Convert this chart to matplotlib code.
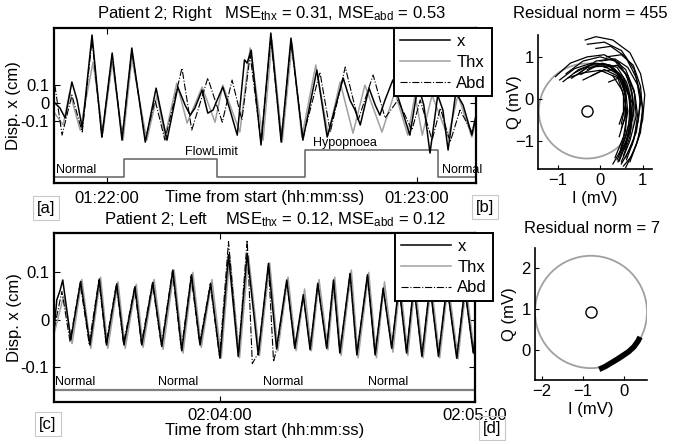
import matplotlib
matplotlib.use("Agg")
import matplotlib.pyplot as plt
from matplotlib.patches import Circle

plt.rcParams['font.family'] = ['Liberation Sans', 'DejaVu Sans']
plt.rcParams['font.size'] = 12
plt.rcParams['mathtext.fontset'] = 'custom'
plt.rcParams['mathtext.rm'] = 'Liberation Sans'
plt.rcParams['mathtext.it'] = 'Liberation Sans:italic'

# ---- panel a: seconds relative to 01:22:00, displacement in cm ----
a_x_t = [-10.26, -9.1, -8.1, -6.8, -5.8, -4.8, -2.9, -1.0, 1.0, 2.9,
         4.8, 7.4, 9.5, 11.6, 13.7, 15.1, 16.1, 17.0, 18.4, 19.5,
         20.5, 22.4, 23.8, 25.2, 26.6, 27.1, 27.9, 29.8, 31.7, 33.7,
         35.6, 37.9, 40.6, 42.6, 45.7, 47.0, 48.0, 49.0, 50.7, 51.9,
         52.8, 53.8, 55.3, 57.1, 58.6, 60.2, 61.3, 62.5, 64.0, 65.0,
         66.0, 67.5, 68.9, 70.6, 71.4]
a_x = [0.006, -0.028, -0.083, 0.117, 0.017, -0.139, 0.378, -0.189, 0.278, -0.206,
       0.306, -0.217, 0.083, -0.206, 0.089, -0.011, -0.067, -0.028, 0.072, -0.056,
       -0.039, 0.089, -0.039, -0.178, 0.24, 0.222, 0.294, -0.233, 0.389, -0.217,
       0.361, -0.206, 0.183, -0.189, 0.139, 0.017, -0.039, -0.122, 0.083, -0.011,
       -0.067, 0.017, 0.128, -0.039, -0.178, 0.1, -0.011, -0.278, 0.044, -0.039,
       -0.261, 0.061, -0.011, -0.178, -0.067]
a_thx_t = [-10.26, -8.5, -7.2, -5.2, -2.7, -0.8, 1.0, 3.1, 4.8, 7.7,
           9.7, 11.2, 13.5, 15.5, 18.4, 20.9, 22.4, 25.7, 27.7, 30.2,
           31.9, 33.9, 35.8, 37.7, 40.4, 42.8, 45.1, 47.6, 49.9, 53.2,
           55.7, 58.2, 59.6, 61.0, 62.9, 66.0, 67.9, 70.6, 71.4]
a_thx = [-0.05, -0.122, 0.061, -0.15, 0.228, -0.167, 0.228, -0.206, 0.25, -0.206,
         0.044, -0.189, 0.111, -0.111, 0.089, -0.106, 0.1, -0.161, 0.306, -0.206,
         0.35, -0.217, 0.333, -0.189, 0.211, -0.178, 0.117, -0.167, 0.1, -0.161,
         0.061, -0.178, 0.044, -0.178, 0.044, -0.189, 0.044, -0.189, -0.094]
a_abd_t = [-10.1, -8.7, -6.8, -4.8, -2.9, -1.0, 1.0, 2.9, 4.8, 7.4,
           9.3, 11.2, 14.5, 16.4, 19.5, 22.3, 24.2, 26.1, 27.7, 29.8,
           31.7, 33.7, 35.6, 37.9, 41.2, 43.2, 46.1, 48.6, 51.5, 53.8,
           56.3, 59.0, 60.6, 62.9, 64.5, 66.4, 68.3, 70.6, 71.4]
a_abd = [0.1, -0.178, 0.044, -0.161, 0.35, -0.189, 0.267, -0.194, 0.289, -0.206,
         0.017, -0.206, 0.194, -0.15, 0.139, -0.106, 0.128, -0.094, 0.267, -0.217,
         0.361, -0.206, 0.339, -0.194, 0.172, -0.161, 0.2, -0.094, 0.156, -0.083,
         0.017, -0.15, 0.017, -0.206, -0.028, -0.217, -0.039, -0.161, -0.083]
a_stage_t = [-10.26, 3.3, 21.3, 38.3, 64.1, 71.4]
a_stage_lvl = [-0.411, -0.311, -0.411, -0.261, -0.411, -0.411]
a_stage_names = ['Normal', 'FlowLimit', 'Hypopnoea', 'Normal']
a_name_t = [-9.9, 15.1, 39.9, 64.8]
a_name_lvl = [-0.411, -0.311, -0.261, -0.411]
a_ticks = [0, 60]
a_ticklabels = ['01:22:00', '01:23:00']

# ---- panel c: seconds relative to 02:04:00 ----
c_x_t = [-39.06, -38.4, -37.6, -37.0, -35.1, -32.8, -30.6, -28.4, -26.7, -24.3,
         -22.6, -20.0, -18.4, -15.8, -13.7, -11.1, -9.0, -6.7, -4.7, -2.2,
         0.0, 2.0, 4.3, 6.4, 9.0, 11.4, 13.3, 15.7, 17.6, 19.6,
         21.2, 23.0, 25.1, 26.7, 28.2, 30.6, 32.2, 34.7, 36.5, 38.4,
         40.4, 42.1, 43.9, 45.6, 47.5, 49.4, 51.4, 53.4, 55.7, 57.6,
         59.6, 60.0]
c_x = [-0.021, 0.042, 0.063, 0.084, -0.042, 0.081, -0.053, 0.086, -0.053, 0.076,
       -0.053, 0.070, -0.053, 0.079, -0.056, 0.105, -0.065, 0.095, -0.053, 0.077,
       -0.081, 0.137, -0.077, 0.14, -0.074, 0.119, -0.06, 0.084, -0.06, 0.053,
       -0.063, 0.077, -0.06, 0.084, -0.07, 0.098, -0.074, 0.095, -0.074, 0.067,
       -0.06, 0.074, -0.07, 0.074, -0.077, 0.074, -0.077, 0.074, -0.081, 0.067,
       -0.07, -0.042]
c_thx_t = [-39.06, -36.8, -34.8, -32.5, -30.4, -28.1, -26.4, -24.0, -22.3, -19.7,
           -18.1, -15.5, -13.4, -10.8, -8.7, -6.4, -4.4, -1.9, 0.3, 2.3,
           4.6, 6.7, 9.3, 11.7, 13.6, 16.0, 17.9, 19.9, 21.5, 23.3,
           25.4, 27.0, 28.5, 30.9, 32.5, 35.0, 36.8, 38.7, 40.7, 42.4,
           44.2, 45.9, 47.8, 49.7, 51.7, 53.7, 56.0, 57.9, 59.9, 60.0]
c_thx = [-0.03, 0.05, -0.05, 0.085, -0.06, 0.09, -0.06, 0.08, -0.06, 0.075,
         -0.058, 0.085, -0.062, 0.105, -0.07, 0.1, -0.058, 0.085, -0.08, 0.135,
         -0.08, 0.135, -0.075, 0.12, -0.065, 0.09, -0.065, 0.065, -0.065, 0.085,
         -0.063, 0.09, -0.075, 0.105, -0.08, 0.1, -0.08, 0.08, -0.068, 0.08,
         -0.075, 0.08, -0.08, 0.078, -0.08, 0.078, -0.082, 0.07, -0.072, -0.07]
c_abd_t = [-39.06, -37.2, -35.3, -32.9, -30.8, -28.5, -26.8, -24.4, -22.7, -20.1,
           -18.5, -15.9, -13.8, -11.2, -9.1, -6.8, -4.8, -2.3, -0.1, 2.0,
           4.3, 6.4, 7.6, 9.0, 11.4, 12.6, 13.4, 15.7, 17.6, 19.6,
           21.2, 23.0, 25.1, 26.7, 28.2, 30.6, 32.2, 34.7, 36.5, 38.4,
           40.4, 42.1, 43.9, 45.6, 47.5, 49.4, 51.4, 53.4, 55.7, 57.6,
           59.6, 60.0]
c_abd = [-0.02, 0.06, -0.045, 0.078, -0.05, 0.083, -0.05, 0.074, -0.05, 0.068,
         -0.05, 0.077, -0.054, 0.102, -0.062, 0.092, -0.05, 0.075, -0.078, 0.165,
         -0.075, 0.168, -0.092, -0.07, 0.116, -0.088, -0.058, 0.082, -0.058, 0.05,
         -0.06, 0.075, -0.058, 0.082, -0.068, 0.096, -0.072, 0.093, -0.072, 0.065,
         -0.058, 0.072, -0.068, 0.072, -0.075, 0.072, -0.075, 0.072, -0.078, 0.065,
         -0.068, -0.04]
c_stage_t = [-39.06, 60.0]
c_stage_lvl = [-0.147, -0.147]
c_name_t = [-38.8, -14.6, 10.1, 34.8]
c_ticks = [0, 60]
c_ticklabels = ['02:04:00', '02:05:00']

# ---- panel b: I/Q trajectories (mV) ----
b_arcs_i = [
    [-0.35, -0.1, 0.3, 0.7, 0.95, 1.05, 1.0, 0.85, 0.6],
    [-0.3, 0.1, 0.5, 0.8, 0.95, 0.9, 0.75, 0.5],
    [-1.05, -0.7, -0.3, 0.1, 0.45, 0.7, 0.8, 0.7, 0.4],
    [-0.87, -0.5, -0.1, 0.25, 0.55, 0.7, 0.68, 0.5, 0.3],
    [-0.67, -0.3, 0.1, 0.4, 0.6, 0.65, 0.55, 0.35],
    [-0.5, -0.1, 0.3, 0.6, 0.8, 0.85, 0.7, 0.5],
    [-0.2, 0.1, 0.4, 0.55, 0.55, 0.45],
    [0.0, 0.35, 0.65, 0.9, 1.0, 0.95, 0.75, 0.55],
    [-0.8, -0.4, 0.0, 0.35, 0.6, 0.75, 0.78, 0.62, 0.42],
    [-0.1, 0.25, 0.6, 0.85, 0.95, 0.85, 0.6],
    [-0.4, 0.0, 0.35, 0.55, 0.6, 0.5],
    [0.2, 0.45, 0.6, 0.6, 0.5],
    [-0.95, -0.6, -0.2, 0.2, 0.5, 0.68, 0.72, 0.6, 0.45],
    [-0.6, -0.25, 0.15, 0.45, 0.65, 0.75, 0.7, 0.55],
    [-0.3, 0.05, 0.4, 0.62, 0.75, 0.72, 0.58],
    [0.1, 0.4, 0.65, 0.82, 0.88, 0.8, 0.62],
    [-0.75, -0.4, 0.0, 0.3, 0.52, 0.62, 0.6, 0.48],
    [0.15, 0.5, 0.78, 0.95, 1.0, 0.9, 0.7],
    [-0.45, -0.1, 0.25, 0.5, 0.6, 0.58, 0.45],
    [0.3, 0.55, 0.7, 0.72, 0.62, 0.45],
]
b_arcs_q = [
    [1.40, 1.48, 1.40, 1.1, 0.6, 0.1, -0.5, -1.1, -1.64],
    [1.3, 1.35, 1.15, 0.7, 0.1, -0.5, -1.1, -1.55],
    [0.53, 0.85, 1.0, 1.05, 0.85, 0.4, -0.2, -0.8, -1.45],
    [0.41, 0.7, 0.85, 0.8, 0.5, 0.0, -0.6, -1.2, -1.55],
    [0.49, 0.75, 0.78, 0.6, 0.2, -0.3, -0.9, -1.4],
    [0.6, 0.9, 0.95, 0.7, 0.2, -0.4, -1.0, -1.5],
    [0.55, 0.7, 0.55, 0.1, -0.3, -0.6],
    [0.9, 0.95, 0.75, 0.3, -0.2, -0.8, -1.35, -1.6],
    [0.6, 0.9, 1.0, 0.9, 0.6, 0.15, -0.4, -1.0, -1.5],
    [1.2, 1.25, 1.0, 0.5, -0.1, -0.8, -1.4],
    [0.45, 0.65, 0.7, 0.4, -0.1, -0.6],
    [0.4, 0.5, 0.1, -0.4, -0.7],
    [0.45, 0.72, 0.85, 0.8, 0.5, 0.05, -0.5, -1.1, -1.48],
    [0.62, 0.8, 0.82, 0.6, 0.2, -0.35, -0.9, -1.35],
    [0.7, 0.85, 0.75, 0.4, -0.1, -0.7, -1.2],
    [0.75, 0.8, 0.55, 0.1, -0.4, -0.95, -1.45],
    [0.5, 0.62, 0.68, 0.55, 0.2, -0.25, -0.75, -1.2],
    [1.0, 1.05, 0.8, 0.3, -0.3, -0.95, -1.5],
    [0.58, 0.78, 0.78, 0.5, 0.05, -0.45, -0.9],
    [0.55, 0.45, 0.1, -0.35, -0.85, -1.3],
]
b_center = (-0.31, -0.29)
b_radius = 1.13

# ---- panel d ----
d_i = [-0.6, -0.45, -0.2, 0.0, 0.12, 0.25, 0.35, 0.4]
d_q = [-0.47, -0.4, -0.25, -0.12, -0.04, 0.08, 0.22, 0.32]
d_center = (-0.8, 0.93)
d_radius = 1.37

W, H = 673, 444


def fx(px):
    return px / W


def fy(py):
    return 1 - py / H


def style_signal_axes(ax):
    for s in ax.spines.values():
        s.set_linewidth(1.6)
    ax.tick_params(direction='in', length=4, width=0.8, top=True, right=True,
                   labelsize=12)
    ax.set_yticks([-0.1, 0, 0.1])
    ax.set_yticklabels(['-0.1', '0', '0.1'])


def style_iq_axes(ax):
    ax.spines['top'].set_visible(False)
    ax.spines['right'].set_visible(False)
    for s in ('left', 'bottom'):
        ax.spines[s].set_linewidth(1.2)
    ax.tick_params(direction='in', length=3, width=0.8, pad=3, labelsize=12)


def add_legend(ax, right_px, top_px):
    h, l = ax.get_legend_handles_labels()
    order = [l.index('x'), l.index('Thx'), l.index('Abd')]
    leg = ax.legend([h[i] for i in order], [l[i] for i in order], loc='upper right',
                    bbox_to_anchor=(fx(right_px), fy(top_px)),
                    bbox_transform=fig.transFigure, borderaxespad=0,
                    fancybox=False, framealpha=1, edgecolor='black',
                    handlelength=3.0, handletextpad=0.4, labelspacing=0.35,
                    borderpad=0.35, fontsize=12)
    leg.get_frame().set_linewidth(1.4)


fig = plt.figure(figsize=(W / 100, H / 100), dpi=100)

ax_a = fig.add_axes([fx(54), fy(183), fx(476) - fx(54), fy(28) - fy(183)])
ax_b = fig.add_axes([fx(538), fy(169), fx(652) - fx(538), fy(35) - fy(169)])
ax_c = fig.add_axes([fx(54), fy(402), fx(475) - fx(54), fy(233) - fy(402)])
ax_d = fig.add_axes([fx(535), fy(380), fx(647) - fx(535), fy(248) - fy(380)])

# panel a
ax_a.plot(a_thx_t, a_thx, color='#a0a0a0', lw=1.1, label='Thx', zorder=2)
ax_a.plot(a_abd_t, a_abd, color='black', ls='-.', lw=0.8, label='Abd', zorder=3)
ax_a.plot(a_x_t, a_x, color='black', lw=1.1, label='x', zorder=4)
ax_a.step(a_stage_t, a_stage_lvl, where='post', color='#606060', lw=1.1)
for name, t, lvl in zip(a_stage_names, a_name_t, a_name_lvl):
    ax_a.text(t, lvl + 0.004, name, fontsize=9, ha='left', va='bottom')
ax_a.set_xlim(-10.26, 71.4)
ax_a.set_ylim(-0.444, 0.417)
style_signal_axes(ax_a)
ax_a.set_xticks(a_ticks)
ax_a.set_xticklabels(a_ticklabels)
ax_a.tick_params(axis='x', pad=6)
ax_a.set_ylabel('Disp. x (cm)')
ax_a.yaxis.set_label_coords(-0.078, 0.5)
ax_a.set_xlabel('Time from start (hh:mm:ss)')
ax_a.xaxis.set_label_coords(0.5, -0.045)
add_legend(ax_a, 492, 28)

# panel c
ax_c.plot(c_thx_t, c_thx, color='#a0a0a0', lw=1.1, label='Thx', zorder=2)
ax_c.plot(c_abd_t, c_abd, color='black', ls='-.', lw=0.8, label='Abd', zorder=3)
ax_c.plot(c_x_t, c_x, color='black', lw=1.1, label='x', zorder=4)
ax_c.plot(c_stage_t, c_stage_lvl, color='#808080', lw=1.6)
for t in c_name_t:
    ax_c.text(t, c_stage_lvl[0] + 0.003, 'Normal', fontsize=9, ha='left', va='bottom')
ax_c.set_xlim(-39.06, 60.0)
ax_c.set_ylim(-0.173, 0.183)
style_signal_axes(ax_c)
ax_c.set_xticks(c_ticks)
ax_c.set_xticklabels(c_ticklabels)
ax_c.tick_params(axis='x', pad=4)
ax_c.set_ylabel('Disp. x (cm)')
ax_c.yaxis.set_label_coords(-0.076, 0.5)
ax_c.set_xlabel('Time from start (hh:mm:ss)', labelpad=0)
add_legend(ax_c, 493, 233)

# panel b
ax_b.add_patch(Circle(b_center, b_radius, fill=False, ec='#a0a0a0', lw=1.3))
for ii, qq in zip(b_arcs_i, b_arcs_q):
    ax_b.plot(ii, qq, color='black', lw=0.9)
ax_b.plot(*b_center, 'o', mfc='white', mec='black', ms=8, mew=1.0)
ax_b.set_xlim(-1.46, 1.22)
ax_b.set_ylim(-1.67, 1.52)
ax_b.set_xticks([-1, 0, 1])
ax_b.set_yticks([-1, 0, 1])
style_iq_axes(ax_b)
ax_b.set_xlabel('I (mV)', labelpad=2)
ax_b.set_ylabel('Q (mV)')
ax_b.yaxis.set_label_coords(-0.14, 0.5)

# panel d
ax_d.add_patch(Circle(d_center, d_radius, fill=False, ec='#a0a0a0', lw=1.3))
ax_d.plot(d_i, d_q, color='black', lw=4.0, solid_capstyle='butt')
ax_d.plot(*d_center, 'o', mfc='white', mec='black', ms=8, mew=1.0)
ax_d.set_xlim(-2.17, 0.57)
ax_d.set_ylim(-0.73, 2.49)
ax_d.set_xticks([-2, -1, 0])
ax_d.set_yticks([0, 1, 2])
style_iq_axes(ax_d)
ax_d.set_xlabel('I (mV)', labelpad=2)
ax_d.set_ylabel('Q (mV)')
ax_d.yaxis.set_label_coords(-0.16, 0.5)

# titles
fig.text(fx(271), fy(18), r'Patient 2; Right   MSE$_{\mathrm{thx}}$ = 0.31, MSE$_{\mathrm{abd}}$ = 0.53',
         ha='center', va='baseline')
fig.text(fx(590), fy(18), 'Residual norm = 455', ha='center', va='baseline')
fig.text(fx(275), fy(224), r'Patient 2; Left    MSE$_{\mathrm{thx}}$ = 0.12, MSE$_{\mathrm{abd}}$ = 0.12',
         ha='center', va='baseline')
fig.text(fx(592), fy(233), 'Residual norm = 7', ha='center', va='baseline')

# panel tags
box = dict(boxstyle='square,pad=0.25', fc='none', ec='#c8c8c8', lw=0.8)
for tag, px, py in (('[a]', 46, 208), ('[b]', 485, 207), ('[c]', 48, 424), ('[d]', 492, 428)):
    fig.text(fx(px), fy(py), tag, ha='center', va='center', bbox=box)

fig.savefig('out.png', dpi=100)
